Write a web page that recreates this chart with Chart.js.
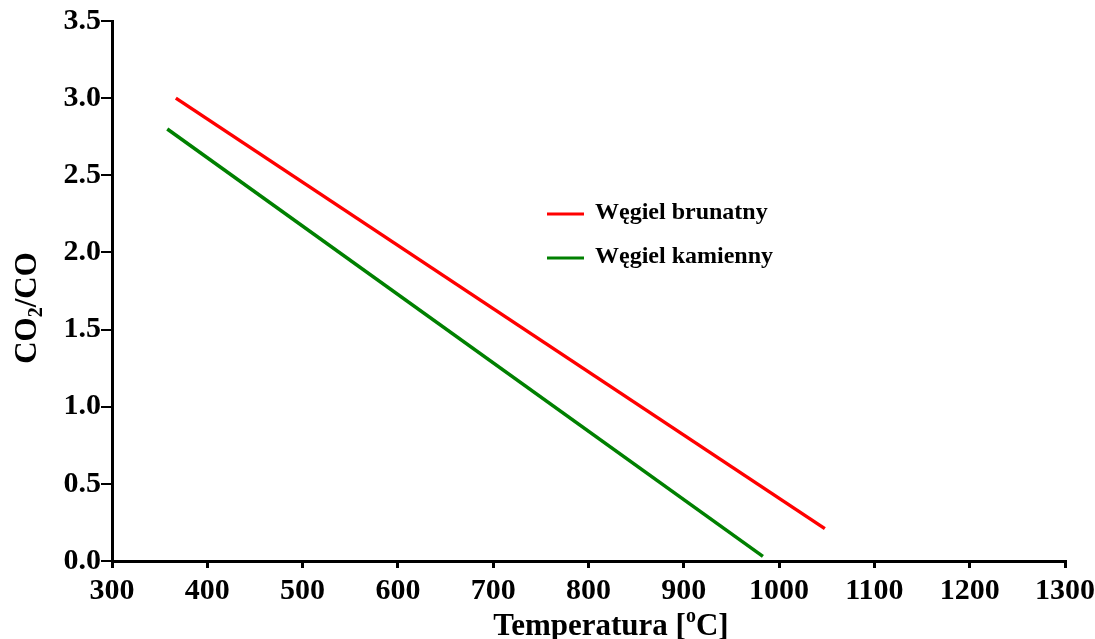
<!DOCTYPE html>
<html>
<head>
<meta charset="utf-8">
<script src="https://cdn.jsdelivr.net/npm/chart.js"></script>
<style>
  html, body { margin: 0; padding: 0; background: #fff; }
  #wrap { width: 1095px; height: 639px; }
</style>
</head>
<body>
<div id="wrap"><canvas id="co2Chart" width="1095" height="639"></canvas></div>
<script>
// values
const seriesNames = ['Węgiel brunatny', 'Węgiel kamienny'];
const seriesColors = ['#ff0000', '#008000'];
const brownTemp = [367, 1048];
const brownRatio = [3.0, 0.21];
const hardTemp = [358, 983];
const hardRatio = [2.8, 0.03];
const xTicks = [300, 400, 500, 600, 700, 800, 900, 1000, 1100, 1200, 1300];
const yTicks = [0, 0.5, 1.0, 1.5, 2.0, 2.5, 3.0, 3.5];

const FONT = '"Liberation Serif", "Times New Roman", serif';

function toPoints(xs, ys) {
    return xs.map((x, i) => ({ x: x, y: ys[i] }));
}

// draws pieces of text one after another, some raised or lowered
function drawRich(ctx, parts, x, y) {
    parts.forEach(p => {
        ctx.font = 'bold ' + p.size + 'px ' + FONT;
        ctx.fillText(p.text, x, y + (p.shift || 0));
        x += ctx.measureText(p.text).width;
    });
}
function richWidth(ctx, parts) {
    let w = 0;
    parts.forEach(p => {
        ctx.font = 'bold ' + p.size + 'px ' + FONT;
        w += ctx.measureText(p.text).width;
    });
    return w;
}

// axis titles with superscript / subscript
const axisTitles = {
    id: 'axisTitles',
    afterDraw(chart) {
        const ctx = chart.ctx;
        ctx.save();
        ctx.fillStyle = '#000';
        ctx.textBaseline = 'alphabetic';

        const xParts = [
            { text: 'Temperatura [', size: 31 },
            { text: 'o', size: 20, shift: -13 },
            { text: 'C]', size: 31 }
        ];
        const xw = richWidth(ctx, xParts);
        drawRich(ctx, xParts, 611 - xw / 2, 635);

        const yParts = [
            { text: 'CO', size: 31 },
            { text: '2', size: 20, shift: 6 },
            { text: '/CO', size: 31 }
        ];
        const yw = richWidth(ctx, yParts);
        ctx.translate(36, 308);
        ctx.rotate(-Math.PI / 2);
        drawRich(ctx, yParts, -yw / 2, 0);
        ctx.restore();
    }
};

// legend drawn inside the plot, like the original
const innerLegend = {
    id: 'innerLegend',
    afterDraw(chart) {
        const ctx = chart.ctx;
        const x0 = 547;
        const y0 = 214;
        ctx.save();
        ctx.font = 'bold 24px ' + FONT;
        ctx.textBaseline = 'middle';
        chart.data.datasets.forEach((ds, i) => {
            const y = y0 + i * 44;
            ctx.strokeStyle = ds.borderColor;
            ctx.lineWidth = 3;
            ctx.beginPath();
            ctx.moveTo(x0, y);
            ctx.lineTo(x0 + 37, y);
            ctx.stroke();
            ctx.fillStyle = '#000';
            ctx.fillText(ds.label, x0 + 48, y - 1);
        });
        ctx.restore();
    }
};

const ctx = document.getElementById('co2Chart').getContext('2d');
new Chart(ctx, {
    type: 'line',
    data: {
        datasets: [
            {
                label: seriesNames[0],
                data: toPoints(brownTemp, brownRatio),
                borderColor: seriesColors[0],
                borderWidth: 3.5,
                pointRadius: 0,
                fill: false
            },
            {
                label: seriesNames[1],
                data: toPoints(hardTemp, hardRatio),
                borderColor: seriesColors[1],
                borderWidth: 3.5,
                pointRadius: 0,
                fill: false
            }
        ]
    },
    options: {
        responsive: false,
        animation: false,
        layout: { padding: { top: 21, right: 30, left: 0, bottom: 0 } },
        plugins: {
            legend: { display: false },
            tooltip: { enabled: false }
        },
        scales: {
            x: {
                type: 'linear',
                min: 300,
                max: 1300,
                afterBuildTicks: (scale) => { scale.ticks = xTicks.map(v => ({ value: v })); },
                border: { display: true, color: '#000', width: 3 },
                grid: { drawOnChartArea: false, drawTicks: true, tickLength: 7, color: '#000', lineWidth: 3 },
                ticks: {
                    color: '#000',
                    padding: 5,
                    maxRotation: 0,
                    font: { family: FONT, size: 30, weight: 'bold' },
                    callback: (v) => String(v)
                },
                afterFit: (scale) => {
                    scale.height = 78;
                    // keep the 1300 label from pushing the plot edge inwards
                    scale.paddingRight = 0;
                    scale.paddingLeft = 0;
                }
            },
            y: {
                type: 'linear',
                min: 0,
                max: 3.5,
                afterBuildTicks: (scale) => { scale.ticks = yTicks.map(v => ({ value: v })); },
                border: { display: true, color: '#000', width: 3 },
                grid: { drawOnChartArea: false, drawTicks: true, tickLength: 11, color: '#000', lineWidth: 2 },
                ticks: {
                    color: '#000',
                    padding: 0,
                    font: { family: FONT, size: 30, weight: 'bold' },
                    callback: (v) => v.toFixed(1)
                },
                afterFit: (scale) => {
                    scale.width = 112;
                    scale.paddingTop = 0;
                    scale.paddingBottom = 0;
                }
            }
        }
    },
    plugins: [innerLegend, axisTitles]
});
</script>
</body>
</html>
